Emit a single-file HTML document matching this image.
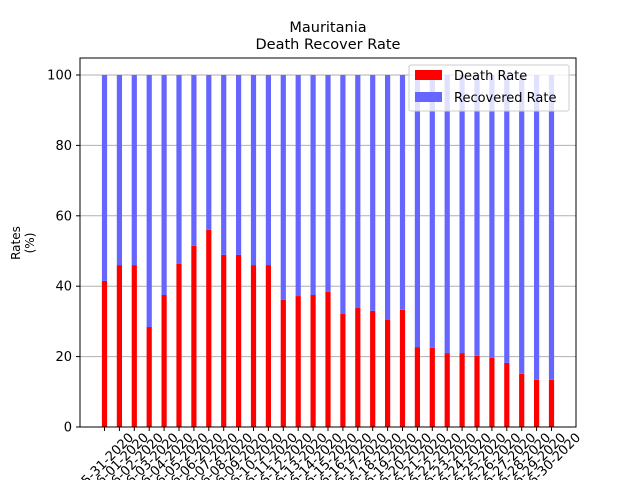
<!DOCTYPE html>
<html><head><meta charset="utf-8"><style>
body{margin:0;background:#fff;font-family:"Liberation Sans","DejaVu Sans",sans-serif}
svg text{font-family:"DejaVu Sans","Liberation Sans",sans-serif}
</style></head><body>
<svg id="c" width="640" height="480" xmlns="http://www.w3.org/2000/svg">
<rect width="640" height="480" fill="#fff"/>
<text x="328" y="32" font-size="14.5" text-anchor="middle">Mauritania</text>
<text x="328" y="49" font-size="14.5" text-anchor="middle">Death Recover Rate</text>
<g id="grid"></g><g id="bars"></g>
<rect x="80" y="58" width="496" height="369" fill="none" stroke="#000" stroke-width="1"/>
<g id="axes"></g>
<text transform="translate(20,243) rotate(-90)" font-size="12" text-anchor="middle"><tspan x="0" dy="0">Rates</tspan><tspan x="0" dy="14">(%)</tspan></text>
<g>
<rect x="409" y="65" width="160" height="46" fill="#fff" fill-opacity="0.8" stroke="#ccc" rx="2"/>
<rect x="415" y="70" width="27" height="10" fill="#ff0000"/>
<text x="454" y="80" font-size="13">Death Rate</text>
<rect x="415" y="92" width="27" height="10" fill="#6666ff"/>
<text x="454" y="102" font-size="13">Recovered Rate</text>
</g>
</svg>
<script>
const dates=["05-31-2020","06-01-2020","06-02-2020","06-03-2020","06-04-2020","06-05-2020","06-06-2020","06-07-2020","06-08-2020","06-09-2020","06-10-2020","06-11-2020","06-12-2020","06-13-2020","06-14-2020","06-15-2020","06-16-2020","06-17-2020","06-18-2020","06-19-2020","06-20-2020","06-21-2020","06-22-2020","06-23-2020","06-24-2020","06-25-2020","06-26-2020","06-27-2020","06-28-2020","06-29-2020","06-30-2020"];
const deathRate=[41.5,46,46,28.4,37.5,46.4,51.5,56,48.9,48.9,46,46,36.1,37.2,37.5,38.4,32.1,33.8,33,30.5,33.3,22.7,22.5,21,21,20.2,19.7,18.2,15.1,13.4,13.4];
const recoveredRate=deathRate.map(d=>100-d);
const yTicks=[0,20,40,60,80,100];
const NS="http://www.w3.org/2000/svg";
const x=i=>104.5+i*14.9, y=v=>427-v*3.52, bw=5.2;
const grid=document.getElementById('grid'),bars=document.getElementById('bars'),axes=document.getElementById('axes');
function mk(tag,attrs,parent){const e=document.createElementNS(NS,tag);for(const k in attrs)e.setAttribute(k,attrs[k]);parent.appendChild(e);return e;}
yTicks.forEach(t=>{
 const g=mk('line',{x1:80,x2:576,y1:y(t),y2:y(t),stroke:'#b0b0b0','stroke-width':1},grid);
 
 
 const tk=mk('line',{x1:76,x2:80,y1:y(t),y2:y(t),stroke:'#000'},axes);
 
 
 const tx=mk('text',{x:72,y:y(t)+4.5,'font-size':13,'text-anchor':'end'},axes);tx.textContent=t;
 
 
});
dates.forEach((d,i)=>{
 const r=mk('rect',{x:x(i)-bw/2,y:y(deathRate[i]),width:bw,height:y(0)-y(deathRate[i]),fill:'#ff0000'},bars);
 
 
 const b=mk('rect',{x:x(i)-bw/2,y:y(deathRate[i]+recoveredRate[i]),width:bw,height:y(deathRate[i])-y(deathRate[i]+recoveredRate[i]),fill:'#6666ff'},bars);
 
 
 const tk=mk('line',{x1:x(i),x2:x(i),y1:427,y2:431,stroke:'#000'},axes);
 
 
 const tx=mk('text',{transform:`translate(${x(i)+3},${465}) rotate(-45)`,'font-size':13,'text-anchor':'middle'},axes);tx.textContent=d;
 
 
});
</script>
</body></html>
